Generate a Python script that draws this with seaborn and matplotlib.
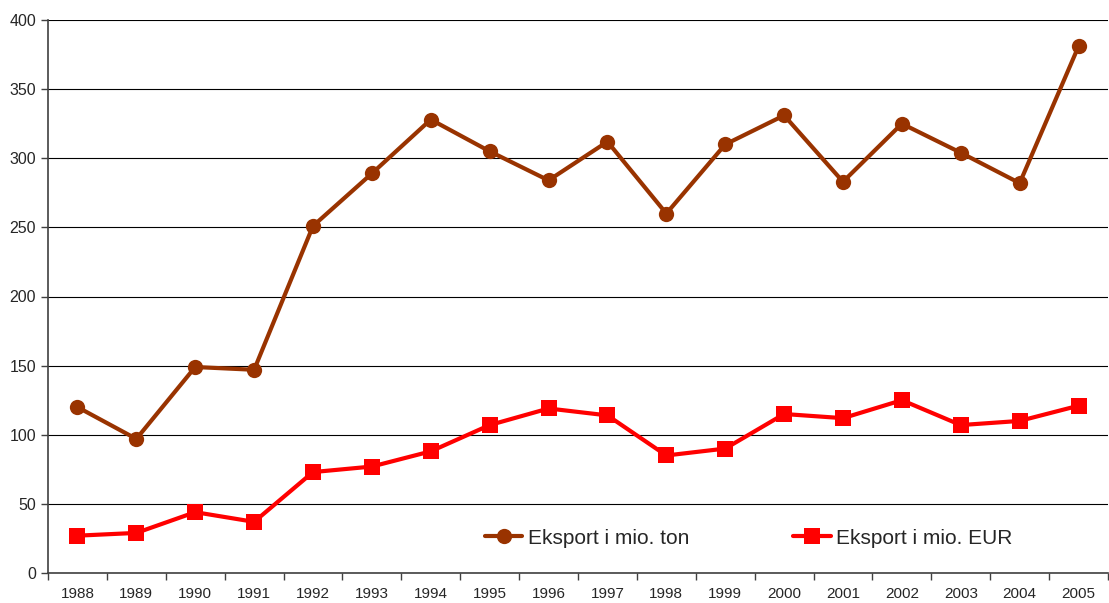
import pandas as pd
import seaborn as sns
import matplotlib.pyplot as plt

years = [str(y) for y in range(1988, 2006)]
tons = [120, 97, 149, 147, 251, 289, 328, 305, 284, 312, 260, 310, 331, 283, 325, 304, 282, 381]
eur = [27, 29, 44, 37, 73, 77, 88, 107, 119, 114, 85, 90, 115, 112, 125, 107, 110, 121]

df = pd.DataFrame({'År': years, 'ton': tons, 'eur': eur})

sns.set_style('white')
plt.rcParams['font.family'] = ['Liberation Sans', 'DejaVu Sans']

fig = plt.figure(figsize=(11.09, 6.03), dpi=100)
ax = fig.add_axes([48 / 1109, 30 / 603, 1060 / 1109, 553 / 603])

sns.lineplot(data=df, x='År', y='ton', ax=ax, color='#993300', linewidth=3,
             marker='o', markersize=11, markeredgewidth=0, label='Eksport i mio. ton')
sns.lineplot(data=df, x='År', y='eur', ax=ax, color='#FF0000', linewidth=3,
             marker='s', markersize=11, markeredgewidth=0, label='Eksport i mio. EUR')

ax.set_ylim(0, 400)
ax.set_yticks(range(0, 401, 50))
ax.set_xlim(-0.5, len(years) - 0.5)
ax.set_xticks([i - 0.5 for i in range(len(years) + 1)])
ax.set_xticklabels([])
ax.set_xticks(range(len(years)), minor=True)
ax.set_xticklabels(years, minor=True)
ax.tick_params(axis='x', which='major', length=5, width=1, color='#404040', direction='out', bottom=True)
ax.tick_params(axis='x', which='minor', length=0, labelsize=11, pad=10)
ax.tick_params(axis='y', length=5, width=1, color='#404040', direction='out', left=True, labelsize=11.5)

ax.yaxis.grid(True, color='black', linewidth=0.8)
ax.set_axisbelow(True)
for s in ['top', 'right']:
    ax.spines[s].set_visible(False)
for s in ['left', 'bottom']:
    ax.spines[s].set_color('#404040')
    ax.spines[s].set_linewidth(1.2)
ax.set_xlabel('')
ax.set_ylabel('')

ax.legend(loc='center', bbox_to_anchor=(0.661, 0.063), ncol=2, frameon=True,
          facecolor='white', edgecolor='white', framealpha=1, fontsize=15,
          handlelength=1.8, columnspacing=5, handletextpad=0.25, borderpad=0.6)

fig.savefig('out.png', dpi=100)
